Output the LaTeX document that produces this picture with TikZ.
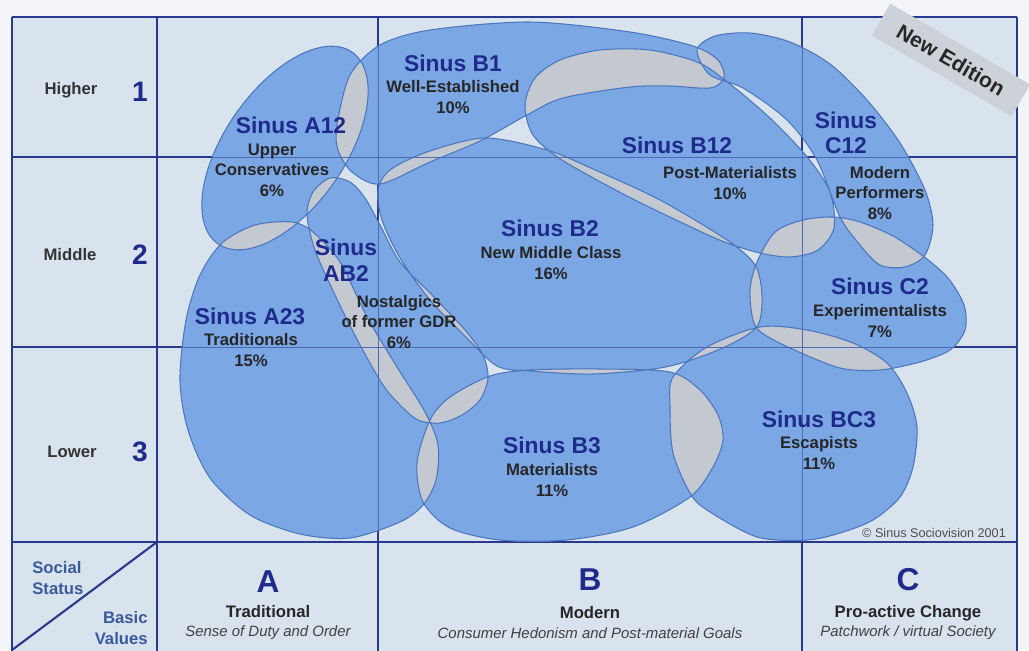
\documentclass[tikz,border=0pt]{standalone}
\usepackage{fontspec}
\setmainfont{Liberation Sans}
\usetikzlibrary{positioning}

\definecolor{pagebg}{HTML}{F3F5F9}
\definecolor{cellbg}{HTML}{D9E3ED}
\definecolor{gridblue}{HTML}{283A8E}
\definecolor{milieu}{HTML}{7BA7E4}
\definecolor{overlap}{HTML}{C3C8D1}
\definecolor{milieuedge}{HTML}{4C77BD}
\definecolor{titleblue}{HTML}{1E2B8C}
\definecolor{axisblue}{HTML}{3A5A9E}
\definecolor{banner}{HTML}{CDD2D8}

\tikzset{
  gridline/.style={gridblue, line width=1.2pt},
  thinline/.style={gridblue!55!milieu, line width=0.5pt},
  grp/.style={inner sep=0pt, align=center, text=titleblue,
    font=\fontsize{13}{14.5}\selectfont\bfseries},
  sub/.style={inner sep=0pt, align=center, text=black!85,
    font=\fontsize{9.5}{11.6}\selectfont\bfseries},
  rowname/.style={inner sep=0pt, text=black!80,
    font=\fontsize{9.5}{11}\selectfont\bfseries},
  rownum/.style={inner sep=0pt, text=titleblue,
    font=\fontsize{16}{18}\selectfont\bfseries},
  colletter/.style={inner sep=0pt, text=titleblue,
    font=\fontsize{18}{20}\selectfont\bfseries},
  colname/.style={inner sep=0pt, text=black!85,
    font=\fontsize{9.5}{11}\selectfont\bfseries},
  colnote/.style={inner sep=0pt, text=black!75,
    font=\fontsize{8.5}{10}\selectfont\itshape},
  axisname/.style={inner sep=0pt, text=axisblue,
    font=\fontsize{9.5}{11.8}\selectfont\bfseries},
  edition/.style={fill=banner, text=black!85, minimum width=92pt,
    minimum height=21pt, inner sep=0pt,
    font=\fontsize{12}{14}\selectfont\bfseries}
}

% tilted ellipse: centre x, centre y, half axes, angle (pixels, y down)
\newcommand\tilted[5]{plot[domain=0:360, samples=90]
  ({#1+#3*cos(\x)*cos(#5)-#4*sin(\x)*sin(#5)},
   {#2+#3*cos(\x)*sin(#5)+#4*sin(\x)*cos(#5)}) -- cycle}

% milieu outlines, in pixels of the original chart
\newcommand\milAtwelve{\tilted{285}{148}{117}{60}{-55}}
\newcommand\milBone{plot[smooth cycle] coordinates {(337,125) (350,75)
  (380,45) (430,30) (530,22) (630,32) (693,46) (718,60) (724,78) (710,88)
  (670,86) (630,87) (563,98) (527,115) (480,141) (430,162) (380,184)
  (352,172) (338,150)}}
\newcommand\milBtwelve{plot[smooth cycle] coordinates {(525,105) (535,78)
  (560,60) (600,50) (650,50) (697,62) (725,80) (770,118) (808,158)
  (830,192) (834,228) (818,250) (790,257) (760,253) (727,243) (693,228)
  (627,196) (562,160) (533,135)}}
\newcommand\milCtwelve{plot[smooth cycle] coordinates {(697,50) (715,36)
  (750,33) (790,42) (830,64) (867,100) (900,143) (925,190) (933,225)
  (925,255) (905,267) (880,265) (860,245) (840,217) (817,160) (787,120)
  (743,88) (710,75)}}
\newcommand\milBtwo{plot[smooth cycle] coordinates {(378,190) (390,170)
  (427,152) (485,138) (547,150) (593,169) (660,200) (727,240) (755,265)
  (762,295) (758,325) (735,342) (700,357) (660,368) (593,374) (530,371)
  (497,366) (465,336) (430,300) (400,258) (382,220)}}
\newcommand\milABtwo{plot[smooth cycle] coordinates {(330,178) (350,182)
  (365,198) (380,225) (400,262) (432,295) (465,330) (483,355) (488,378)
  (480,400) (462,415) (440,423) (418,420) (400,405) (383,385) (360,345)
  (335,295) (315,250) (307,215) (313,192)}}
\newcommand\milAtwothree{plot[smooth cycle] coordinates {(180,380) (186,320)
  (200,275) (222,243) (255,225) (292,222) (313,232) (340,262) (367,317)
  (397,367) (425,412) (438,445) (436,480) (423,505) (400,522) (350,538)
  (300,534) (250,515) (210,478) (188,430)}}
\newcommand\milBthree{plot[smooth cycle] coordinates {(417,463) (430,420)
  (450,397) (490,376) (530,370) (600,369) (670,372) (700,390) (718,415)
  (723,440) (713,467) (690,497) (633,527) (567,540) (500,540) (450,528)
  (423,502)}}
\newcommand\milCtwo{plot[smooth cycle] coordinates {(753,320) (750,290)
  (757,262) (775,232) (803,220) (833,217) (860,222) (893,236) (923,256)
  (948,278) (964,305) (965,330) (950,350) (920,362) (880,370) (840,368)
  (790,348) (762,333)}}
\newcommand\milBCthree{plot[smooth cycle] coordinates {(670,407) (673,377)
  (707,347) (760,327) (807,330) (853,343) (887,363) (907,393) (917,427)
  (913,467) (900,497) (873,520) (840,533) (807,540) (757,537) (707,510)
  (690,493) (673,453)}}
\newcommand\milieus{\milAtwelve \milBone \milBtwelve \milCtwelve \milBtwo
  \milABtwo \milAtwothree \milBthree \milCtwo \milBCthree}

\begin{document}
\begin{tikzpicture}[x=0.02cm,y=-0.02cm]
\useasboundingbox (0,0) rectangle (1029,650);
\fill[pagebg] (0,0) rectangle (1029,650);
\fill[cellbg] (12,17) rectangle (1017,652);

% grid of the chart
\foreach \gx in {12,157,378,802,1017}
  \draw[gridline] (\gx,17) -- (\gx,652);
\foreach \gy in {17,157,347,542}
  \draw[gridline] (12,\gy) -- (1017,\gy);
\draw[gridline] (157,542) -- (12,650);

% milieus: double overlaps grey
\fill[overlap] \milieus;
\fill[milieu, even odd rule] \milieus;
\draw[milieuedge, line width=0.6pt] \milieus;
\begin{scope}
\clip \milieus;
\draw[thinline] (378,17) -- (378,542) (802,17) -- (802,542)
  (12,157) -- (1017,157) (12,347) -- (1017,347);
\end{scope}

\node[edition, rotate=-30] (newed) at (951,60) {New Edition};

% social status
\node[rowname] (higher) at (71,90) {Higher};
\node[rownum] (one) at (140,92) {1};
\node[rowname] (middle) at (70,255) {Middle};
\node[rownum] (two) at (140,255) {2};
\node[rowname] (lower) at (72,452) {Lower};
\node[rownum] (three) at (140,452) {3};

% basic values
\node[axisname, align=left, anchor=west] (social) at (32,578) {Social\\Status};
\node[axisname, align=right, anchor=east] (basic) at (148,628) {Basic\\Values};
\node[colletter] (colA) at (268,582) {A};
\node[colname] (tradit) at (268,612) {Traditional};
\node[colnote] (duty) at (268,633) {Sense of Duty and Order};
\node[colletter] (colB) at (590,580) {B};
\node[colname] (modern) at (590,613) {Modern};
\node[colnote] (hedon) at (590,633) {Consumer Hedonism and Post-material Goals};
\node[colletter] (colC) at (908,580) {C};
\node[colname] (proact) at (908,613) {Pro-active Change};
\node[colnote] (patch) at (908,633) {Patchwork / virtual Society};

% milieu labels
\node[grp] (a12) at (291,125) {Sinus A12};
\node[sub] (a12t) at (272,170) {Upper\\Conservatives\\6\%};
\node[grp] (b1) at (453,63) {Sinus B1};
\node[sub] (b1t) at (453,97) {Well-Established\\10\%};
\node[grp] (b12) at (677,145) {Sinus B12};
\node[sub] (b12t) at (730,183) {Post-Materialists\\10\%};
\node[grp] (c12) at (846,133) {Sinus\\C12};
\node[sub] (c12t) at (880,193) {Modern\\Performers\\8\%};
\node[grp] (b2) at (550,228) {Sinus B2};
\node[sub] (b2t) at (551,263) {New Middle Class\\16\%};
\node[grp] (ab2) at (346,260) {Sinus\\AB2};
\node[sub] (ab2t) at (399,322) {Nostalgics\\of former GDR\\6\%};
\node[grp] (a23) at (250,316) {Sinus A23};
\node[sub] (a23t) at (251,350) {Traditionals\\15\%};
\node[grp] (c2) at (880,286) {Sinus C2};
\node[sub] (c2t) at (880,321) {Experimentalists\\7\%};
\node[grp] (b3) at (552,445) {Sinus B3};
\node[sub] (b3t) at (552,480) {Materialists\\11\%};
\node[grp] (bc3) at (819,419) {Sinus BC3};
\node[sub] (bc3t) at (819,453) {Escapists\\11\%};

\node[inner sep=0pt, text=black!70, font=\fontsize{7.2}{8}\selectfont]
  (copy) at (934,533) {© Sinus Sociovision 2001};
\end{tikzpicture}
\end{document}
